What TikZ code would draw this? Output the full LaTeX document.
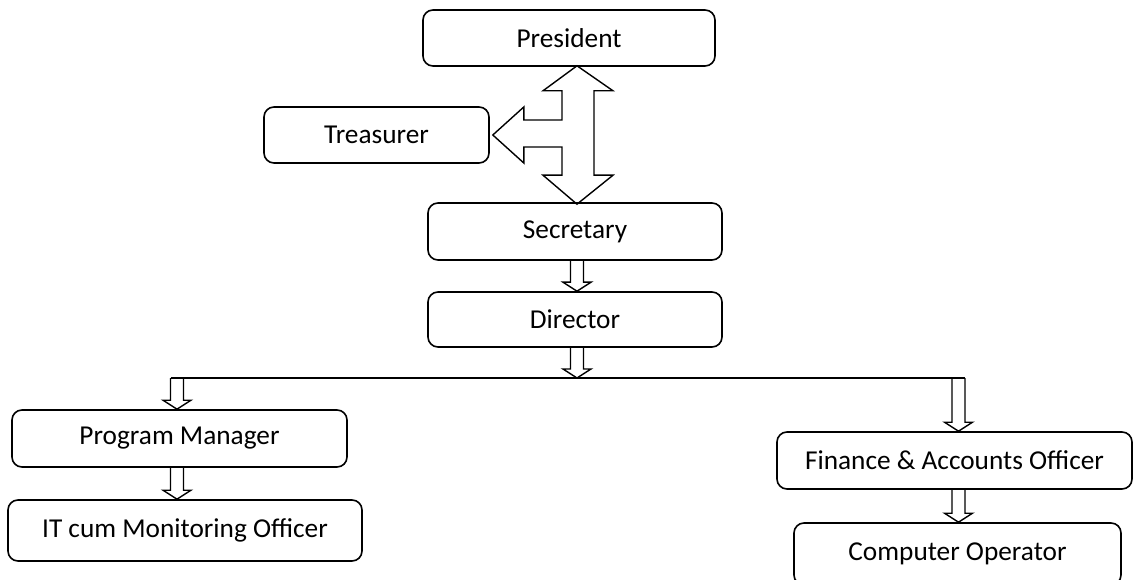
\documentclass[tikz,border=0pt]{standalone}
\usepackage{fontspec}
\setmainfont{Carlito}
\usetikzlibrary{calc}
\tikzset{
  box/.style={draw, line width=1.6pt, rounded corners=10pt, inner sep=0pt,
    font=\fontsize{27.3}{31}\selectfont},
  blk/.style={draw, line width=1.4pt, line join=miter},
  link/.style={draw, line width=1.6pt}
}
\newcommand{\blockdown}[2]{%
  \draw[blk] let \p1=(#1), \p2=(#2) in
    (\x2-6.5pt,\y1) -- (\x2-6.5pt,\y2+9pt) -- (\x2-14pt,\y2+9pt) -- (\x2,\y2)
    -- (\x2+14pt,\y2+9pt) -- (\x2+6.5pt,\y2+9pt) -- (\x2+6.5pt,\y1);}
\begin{document}
\begin{tikzpicture}[x=1pt,y=-1pt]
\useasboundingbox (0,0) rectangle (1133,580);
\node[box, minimum width=292pt, minimum height=56pt] (pres) at (569,38) {President};
\node[box, minimum width=225pt, minimum height=56pt] (tre) at (376.5,135) {Treasurer};
\node[box, minimum width=294pt, minimum height=57pt] (sec) at (575,231.5) {Secretary};
\node[box, minimum width=294pt, minimum height=55pt] (dir) at (575,319.5) {Director};
\node[box, minimum width=335pt, minimum height=57pt] (pm) at (179.5,438.5) {Program Manager};
\node[box, minimum width=354pt, minimum height=61pt] (it) at (185,530.5) {IT cum Monitoring Officer};
\node[box, minimum width=355pt, minimum height=57pt] (fin) at (954.5,460.5) {Finance \& Accounts Officer};
\node[box, minimum width=327pt, minimum height=62pt] (co) at (957.5,554) {Computer Operator};
% spine x position
\coordinate (sp) at (577,0);
\coordinate (bus) at (577,378);
\coordinate (bl) at (177,378);
\coordinate (br) at (958.5,378);
% T-shaped three-way block arrow President / Treasurer / Secretary
\draw[blk] let \p1=(sp |- pres.south), \p2=(sp |- sec.north), \p3=(tre.east) in
  (\x1,\y1+1pt) -- (\x1+36pt,\y1-24pt) -- (\x1+17pt,\y1-24pt) -- (\x1+17pt,\y2+27pt)
  -- (\x1+36pt,\y2+27pt) -- (\x2,\y2-2pt) -- (\x1-34pt,\y2+27pt) -- (\x1-15pt,\y2+27pt)
  -- (\x1-15pt,\y3-12pt) -- (\x3+34pt,\y3-12pt) -- (\x3+34pt,\y3-28pt) -- (\x3+3pt,\y3)
  -- (\x3+34pt,\y3+28pt) -- (\x3+34pt,\y3+15pt) -- (\x1-15pt,\y3+15pt)
  -- (\x1-15pt,\y1-24pt) -- (\x1-34pt,\y1-24pt) -- cycle;
% Secretary -> Director
\blockdown{sp |- sec.south}{sp |- dir.north}
% Director -> bus
\blockdown{sp |- dir.south}{bus}
% bus line
\draw[link] ($(bl)+(-6.5,0)$) -- ($(br)+(6.5,0)$);
\blockdown{bl}{bl |- pm.north}
\blockdown{br}{br |- fin.north}
% lower arrows
\blockdown{bl |- pm.south}{bl |- it.north}
\blockdown{br |- fin.south}{br |- co.north}
\end{tikzpicture}
\end{document}
